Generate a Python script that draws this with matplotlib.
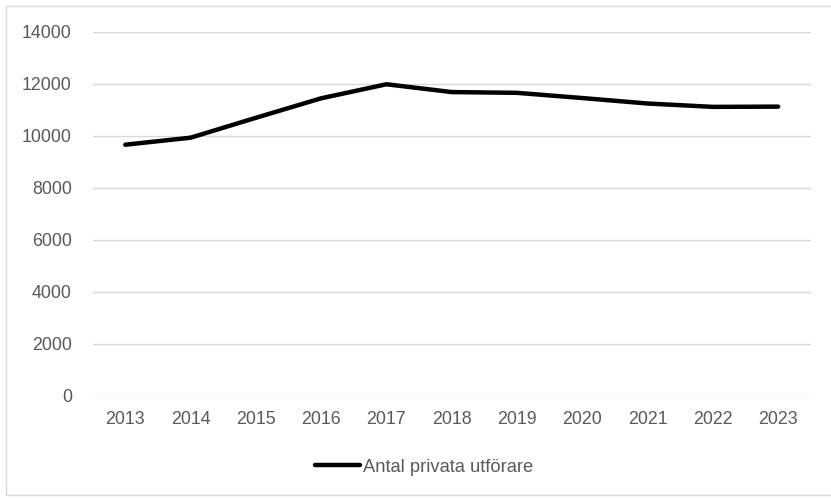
import matplotlib.pyplot as plt
from matplotlib.patches import Rectangle

# antal privata utförare per år
years = ["2013", "2014", "2015", "2016", "2017", "2018", "2019", "2020", "2021", "2022", "2023"]
antal = [9665, 9935, 10700, 11450, 11990, 11690, 11660, 11460, 11250, 11120, 11130]
yticks = [0, 2000, 4000, 6000, 8000, 10000, 12000, 14000]

plt.rcParams['font.family'] = ['Liberation Sans', 'DejaVu Sans']

fig = plt.figure(figsize=(8.31, 4.99), dpi=100)
ax = fig.add_axes([92.7 / 831, 1 - 396 / 499, 718 / 831, 364 / 499])

x = range(len(years))
line, = ax.plot(x, antal, color='black', lw=3.2, solid_capstyle='round',
                solid_joinstyle='round', label='Antal privata utförare')

ax.set_xlim(-0.5, len(years) - 0.5)
ax.set_ylim(0, 14000)
ax.set_yticks(yticks)
ax.set_xticks(list(x))
ax.set_xticklabels(years)
ax.grid(axis='y', color='#d9d9d9', lw=1)
ax.set_axisbelow(True)
for s in ax.spines.values():
    s.set_visible(False)
ax.tick_params(length=0, labelsize=12.8, labelcolor='#595959')
ax.tick_params(axis='y', pad=15)
ax.tick_params(axis='x', pad=11)

fig.legend(handles=[line], loc='center', bbox_to_anchor=(424 / 831, 1 - 467 / 499),
           frameon=False, fontsize=13.2, labelcolor='#595959', handlelength=2.5,
           handletextpad=0.15)

# ram runt diagrammet
fig.patches.append(Rectangle((6 / 831, 4 / 499), 830 / 831, 489 / 499, transform=fig.transFigure,
                             fill=False, edgecolor='#d9d9d9', lw=1))

fig.savefig('out.png', dpi=100)
